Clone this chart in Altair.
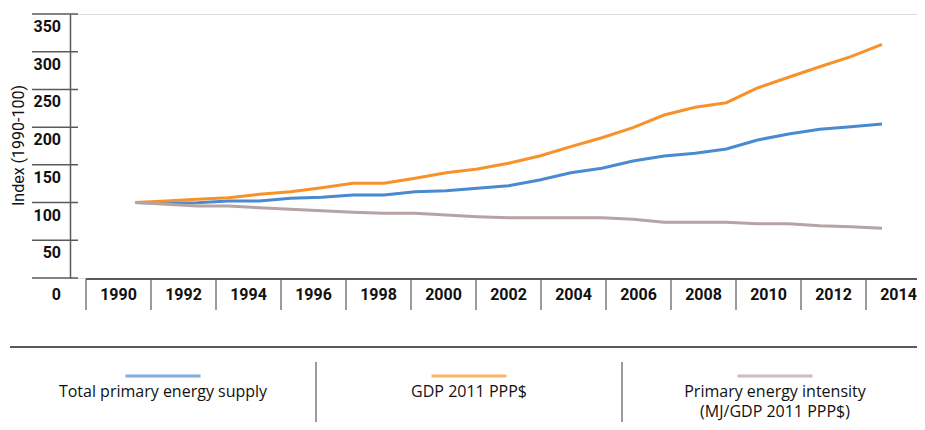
import altair as alt
import pandas as pd

years = list(range(1990, 2015))
tpes = [100, 99, 99.8, 102, 102, 105.6, 107, 110, 110, 114.4, 115.7, 118.9, 122.2,
        129.9, 139.6, 145.4, 155.1, 161.7, 165.3, 171, 183, 190.9, 197.1, 200.6, 204.2]
gdp = [100, 102.1, 104.3, 106.5, 111, 114.4, 119.7, 125.5, 125.5, 132.2, 139.6, 144.5, 152.2,
       161.7, 174.1, 186.0, 199.3, 216.1, 226.3, 232.4, 251.9, 266.1, 280.1, 293.4, 309.8]
intensity = [100, 97.7, 95.5, 95.5, 93.2, 91.1, 89.2, 87.1, 85.8, 85.8, 83.5, 81.3, 79.9,
             79.9, 79.9, 79.9, 77.8, 73.8, 73.8, 73.8, 72, 72, 69.3, 68, 65.9]

series = ["Total primary energy supply", "GDP 2011 PPP$", "Primary energy intensity"]
legend_labels = ["Total primary energy supply", "GDP 2011 PPP$",
                 "Primary energy intensity\n(MJ/GDP 2011 PPP$)"]
colors = ["#4a8ad0", "#f7922b", "#b6a3a3"]
year_labels = [str(y) for y in range(1990, 2015, 2)]
y_ticks = [0, 50, 100, 150, 200, 250, 300, 350]

TICK_FONT = "Roboto"
TEXT_FONT = "Open Sans"
AX = "#5a5a5a"

rows = []
for name, vals in zip(series, [tpes, gdp, intensity]):
    for yr, v in zip(years, vals):
        rows.append({"year": yr, "value": v, "series": name})
df = pd.DataFrame(rows)

color_scale = alt.Scale(domain=series, range=colors)
y_scale = alt.Scale(domain=[0, 350], nice=False, zero=True)

lines = alt.Chart(df).mark_line(strokeWidth=3).encode(
    x=alt.X("year:Q", scale=alt.Scale(domain=[1990, 2014], range=[65, 812]), axis=None),
    y=alt.Y("value:Q", scale=y_scale,
            axis=alt.Axis(values=y_ticks, ticks=False, grid=False, labels=False,
                          domainColor=AX, domainWidth=1.5,
                          title="Index (1990-100)", titleFont=TICK_FONT, titleFontSize=16,
                          titleFontWeight="normal", titleColor="#111",
                          titleX=-52, titleY=131, titleAngle=270,
                          titleAlign="center", titleBaseline="middle")),
    color=alt.Color("series:N", scale=color_scale, legend=None),
    order=alt.Order("year:Q"),
)

tick_df = pd.DataFrame({"v": y_ticks, "t": [str(v) for v in y_ticks]})
ticks = alt.Chart(tick_df).mark_rule(color=AX, strokeWidth=1.5).encode(
    y=alt.Y("v:Q", scale=y_scale), x=alt.value(-38), x2=alt.value(8)
)
tick_text = alt.Chart(tick_df).transform_filter("datum.v > 0").mark_text(
    font=TICK_FONT, fontSize=16, fontWeight="bold", color="#111",
    align="right", baseline="middle", dy=13
).encode(
    y=alt.Y("v:Q", scale=y_scale), x=alt.value(-9), text="t:N"
)
zero_text = alt.Chart(tick_df).transform_filter("datum.v == 0").mark_text(
    font=TICK_FONT, fontSize=16, fontWeight="bold", color="#111",
    align="right", baseline="middle", dy=17
).encode(
    y=alt.Y("v:Q", scale=y_scale), x=alt.value(-9), text="t:N"
)

cell_scale = alt.Scale(domain=year_labels, range=[16, 861], paddingInner=0, paddingOuter=0)
cells_df = pd.DataFrame({"yr": year_labels})
cell_top = alt.Chart(cells_df).mark_rule(color=AX, strokeWidth=1.5).encode(
    x=alt.value(16), x2=alt.value(860), y=alt.value(265)
)
cell_seps = alt.Chart(cells_df).mark_rule(color=AX, strokeWidth=1.2).encode(
    x=alt.X("yr:O", scale=cell_scale, bandPosition=0, axis=None),
    y=alt.value(265), y2=alt.value(296),
)
cell_text = alt.Chart(cells_df).mark_text(
    font=TICK_FONT, fontSize=16, fontWeight="bold", color="#111", baseline="middle"
).encode(
    x=alt.X("yr:O", scale=cell_scale, bandPosition=0.5, axis=None),
    y=alt.value(281),
    text="yr:N",
)

leg_scale = alt.Scale(domain=series, range=[-60, 858], paddingInner=0, paddingOuter=0)
leg_df = pd.DataFrame({"series": series, "label": legend_labels})
leg_line = alt.Chart(leg_df).mark_rule(color=AX, strokeWidth=2).encode(
    x=alt.value(-60), x2=alt.value(860), y=alt.value(333)
)
leg_seps = alt.Chart(pd.DataFrame({"series": series[1:]})).mark_rule(
    color=AX, strokeWidth=1.2
).encode(
    x=alt.X("series:N", scale=leg_scale, bandPosition=0, axis=None),
    y=alt.value(348), y2=alt.value(411),
)
leg_swatch = alt.Chart(leg_df).mark_tick(orient="horizontal", size=75, thickness=3).encode(
    x=alt.X("series:N", scale=leg_scale, bandPosition=0.5, axis=None),
    y=alt.value(362),
    color=alt.Color("series:N", scale=color_scale, legend=None),
)
leg_text = alt.Chart(leg_df).mark_text(
    font=TEXT_FONT, fontSize=16, color="#111", baseline="top", lineBreak="\n", lineHeight=20
).encode(
    x=alt.X("series:N", scale=leg_scale, bandPosition=0.5, axis=None),
    y=alt.value(370),
    text="label:N",
)

chart = alt.layer(
    cell_top, cell_seps, cell_text, ticks, tick_text, zero_text, lines,
    leg_line, leg_seps, leg_swatch, leg_text
).resolve_scale(x="independent").properties(
    width=847, height=264,
    padding={"left": 62, "top": 6, "right": 0, "bottom": 144},
    autosize=alt.AutoSizeParams(type="none"),
).configure_view(stroke=None).configure(background="white")

chart.save("out.html", embed_options={"renderer": "svg", "actions": False})
